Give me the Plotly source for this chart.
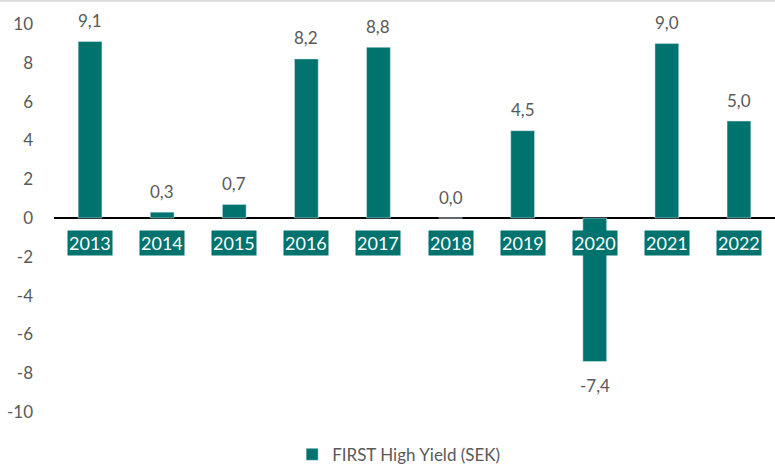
import plotly.graph_objects as go

years = ["2013", "2014", "2015", "2016", "2017", "2018", "2019", "2020", "2021", "2022"]
values = [9.1, 0.3, 0.7, 8.2, 8.8, 0.0, 4.5, -7.4, 9.0, 5.0]
series_name = "FIRST High Yield (SEK)"
y_ticks = [-10, -8, -6, -4, -2, 0, 2, 4, 6, 8, 10]
y_ticktext = [str(v) for v in y_ticks]
value_labels = [f"{v:.1f}".replace(".", ",") for v in values]

teal = "#00736F"
gray = "#595959"
fnt = "Lato, sans-serif"

fig = go.Figure()
fig.add_trace(go.Bar(
    x=years, y=values, name=series_name,
    marker=dict(color=teal),
    cliponaxis=False, width=0.33,
))

for i, (yr, v, lab) in enumerate(zip(years, values, value_labels)):
    fig.add_annotation(x=i, y=0, yshift=-25, text=yr, showarrow=False,
                       bgcolor=teal, font=dict(family=fnt, size=18, color="white"),
                       borderpad=1)
    fig.add_annotation(x=i, y=v, yshift=(-24 if v < 0 else 21), text=lab, showarrow=False,
                       font=dict(family=fnt, size=17, color=gray))

fig.add_shape(type="line", xref="paper", yref="paper", x0=-0.1, x1=1.1, y0=1.06, y1=1.06,
              line=dict(color="#d9d9d9", width=2))

fig.update_layout(
    width=775, height=465,
    margin=dict(l=54, r=0, t=24, b=53, autoexpand=False),
    plot_bgcolor="white", paper_bgcolor="white",
    showlegend=True,
    legend=dict(orientation="h", x=0.515, xanchor="center", xref="container",
                y=0.022, yanchor="middle", yref="container",
                font=dict(family=fnt, size=17, color=gray)),
    xaxis=dict(type="category", range=[-0.5, len(years) - 0.5], showticklabels=False,
               showline=False, showgrid=False, ticks=""),
    yaxis=dict(range=[-10, 10], tickvals=y_ticks, ticktext=y_ticktext, showgrid=False, zeroline=True,
               zerolinecolor="black", zerolinewidth=1.5,
               tickfont=dict(family=fnt, size=17, color=gray),
               ticklabelstandoff=20),
    font=dict(family=fnt),
)

fig.write_html("out.html")
